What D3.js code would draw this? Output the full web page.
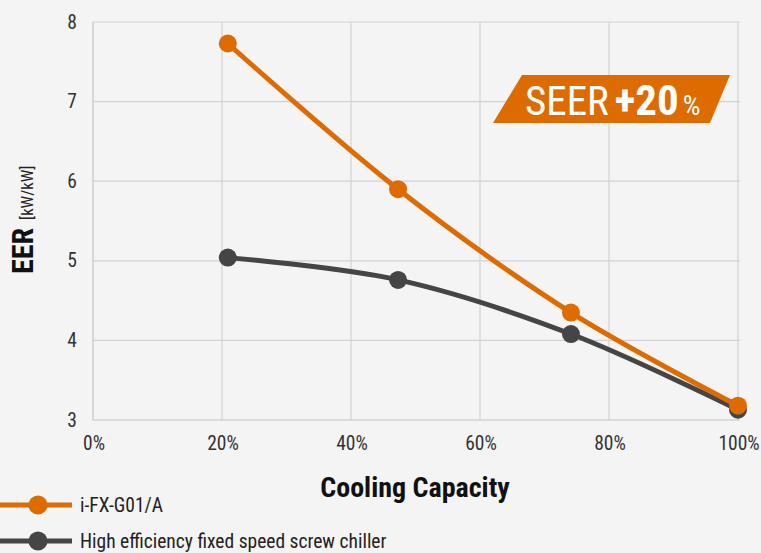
<!DOCTYPE html>
<html><head><meta charset="utf-8">
<script src="https://cdn.jsdelivr.net/npm/d3@7"></script>
<style>
html,body{margin:0;padding:0;background:#f4f4f4;}
svg{display:block;font-family:"Liberation Sans Narrow","Roboto Condensed","Arial Narrow",sans-serif;}
</style></head>
<body><svg id="c" width="761" height="553"></svg>
<script>
const xTicks = [0,20,40,60,80,100];
const yTicks = [3,4,5,6,7,8];
const capacity = [20.9, 47.3, 74.1, 100];
const ifx = [7.73, 5.90, 4.35, 3.18];
const fixedSpeed = [5.04, 4.76, 4.08, 3.13];
const seriesNames = ["i-FX-G01/A","High efficiency fixed speed screw chiller"];
const seriesColors = ["#dd6b00","#454545"];

const svg = d3.select("#c");
const x = d3.scaleLinear().domain([0,100]).range([93,738]);
const y = d3.scaleLinear().domain([3,8]).range([420,22]);

// grid
svg.append("g").selectAll("line").data(yTicks.slice(1)).join("line")
  .attr("x1",93).attr("x2",740).attr("y1",d=>y(d)).attr("y2",d=>y(d))
  .attr("stroke","#d2d2d2").attr("stroke-width",1.2);
svg.append("g").selectAll("line").data(xTicks.slice(1)).join("line")
  .attr("x1",d=>x(d)).attr("x2",d=>x(d)).attr("y1",y(8)).attr("y2",y(3))
  .attr("stroke","#d2d2d2").attr("stroke-width",1.2);
// axes lines
svg.append("line").attr("x1",x(0)).attr("x2",x(0)).attr("y1",y(8)).attr("y2",y(3)).attr("stroke","#c4c4c4").attr("stroke-width",1.2);
svg.append("line").attr("x1",x(0)).attr("x2",740).attr("y1",y(3)).attr("y2",y(3)).attr("stroke","#c4c4c4").attr("stroke-width",1.2);

// tick labels
svg.append("g").selectAll("text").data(yTicks).join("text")
  .attr("x",72).attr("y",d=>y(d)+6.5).attr("text-anchor","middle")
  .attr("font-size",19.5).attr("fill","#333").text(d=>d);
svg.append("g").selectAll("text").data(xTicks).join("text")
  .attr("x",d=>x(d)+1).attr("y",450).attr("text-anchor","middle")
  .attr("font-size",19.5).attr("fill","#333").text(d=>d+"%");

// axis titles
svg.append("text").attr("x",415).attr("y",497).attr("text-anchor","middle")
  .attr("font-size",28).attr("font-weight","bold").attr("fill","#111").text("Cooling Capacity");
svg.append("text").attr("transform","translate(33,274) rotate(-90)").attr("fill","#111")
  .attr("font-size",30).attr("font-weight","bold").text("EER");
svg.append("text").attr("transform","translate(33,220) rotate(-90)").attr("fill","#222")
  .attr("font-size",16.5).text("[kW/kW]");

// lines
const line = d3.line().x(d=>x(d[0])).y(d=>y(d[1])).curve(d3.curveCatmullRom.alpha(0.5));
const data = [fixedSpeed, ifx];
const cols = [seriesColors[1], seriesColors[0]];
data.forEach((vals,i)=>{
  const pts = capacity.map((c,j)=>[c,vals[j]]);
  svg.append("path").datum(pts).attr("d",line).attr("fill","none")
    .attr("stroke",cols[i]).attr("stroke-width",5).attr("stroke-linecap","round");
  svg.append("g").selectAll("circle").data(pts).join("circle")
    .attr("cx",d=>x(d[0])).attr("cy",d=>y(d[1])).attr("r",9).attr("fill",cols[i]);
});

// badge
const bx0=493, bx1=710, by0=75, by1=123;
svg.append("path").attr("d",`M${bx0+29},${by0}L${730},${by0}L${bx1},${by1}L${bx0},${by1}Z`).attr("fill","#dd6b00");
const bt = svg.append("text").attr("x",525).attr("y",115).attr("fill","#fff");
bt.append("tspan").attr("font-size",41).text("SEER");
bt.append("tspan").attr("dx",6).attr("font-size",43).attr("font-weight","bold").text("+20");
bt.append("tspan").attr("dx",4).attr("font-size",28).text("%");

// legend
seriesNames.forEach((n,i)=>{
  const ly = 505 + i*36;
  svg.append("line").attr("x1",0).attr("x2",72).attr("y1",ly).attr("y2",ly).attr("stroke",seriesColors[i]).attr("stroke-width",5);
  svg.append("circle").attr("cx",38).attr("cy",ly).attr("r",9.5).attr("fill",seriesColors[i]);
  svg.append("text").attr("x",80).attr("y",ly+7).attr("font-size",19.5).attr("fill","#222").text(n);
});
</script></body></html>
